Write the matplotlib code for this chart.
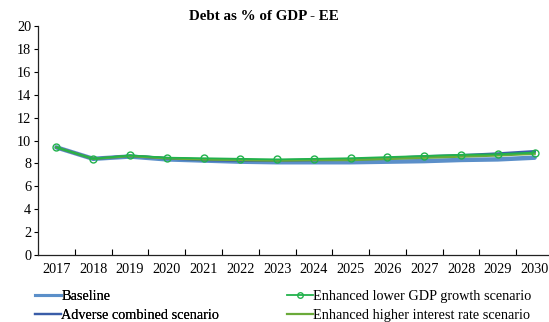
import matplotlib
matplotlib.use("Agg")
import matplotlib.pyplot as plt
from matplotlib.lines import Line2D

plt.rcParams['font.family'] = ['Liberation Serif', 'DejaVu Serif']

years = [str(y) for y in range(2017, 2031)]
baseline = [9.4, 8.4, 8.6, 8.35, 8.25, 8.15, 8.1, 8.1, 8.1, 8.15, 8.2, 8.3, 8.35, 8.5]
lower_gdp = [9.4, 8.4, 8.7, 8.5, 8.45, 8.4, 8.35, 8.4, 8.45, 8.55, 8.65, 8.75, 8.8, 8.95]
adverse = [9.4, 8.4, 8.65, 8.45, 8.3, 8.25, 8.25, 8.3, 8.35, 8.45, 8.6, 8.7, 8.85, 9.05]
higher_rate = [9.4, 8.4, 8.65, 8.45, 8.35, 8.3, 8.25, 8.3, 8.3, 8.4, 8.5, 8.6, 8.7, 8.85]
y_ticks = list(range(0, 21, 2))

W, H = 549, 322
fig = plt.figure(figsize=(W / 100, H / 100), dpi=100)
left, right, top, bottom = 38, 553, 26, 255
ax = fig.add_axes([left / W, 1 - bottom / H, (right - left) / W, (bottom - top) / H])

x = list(range(len(years)))
c_base = '#5B8FC9'
c_adv = '#3A5DA8'
c_gdp = '#22B24C'
c_rate = '#6AAA3A'

ax.plot(x, baseline, color=c_base, lw=3.2, solid_capstyle='round', zorder=2)
ax.plot(x, adverse, color=c_adv, lw=2.0, zorder=3)
ax.plot(x, lower_gdp, color=c_gdp, lw=1.3, marker='o', ms=5, mfc='none',
        mec=c_gdp, mew=1.0, zorder=5)
ax.plot(x, higher_rate, color=c_rate, lw=1.8, zorder=4)

ax.set_xlim(-0.5, len(years) - 0.5)
ax.set_ylim(0, 20)
ax.set_yticks(y_ticks)
ax.set_yticklabels([str(v) for v in y_ticks], fontsize=10.3)
ax.set_xticks([i + 0.5 for i in range(len(years) - 1)])
ax.set_xticklabels([])
ax.set_xticks(x, minor=True)
ax.set_xticklabels(years, minor=True, fontsize=10.3)
ax.tick_params(axis='x', which='minor', length=0, pad=6)
ax.tick_params(axis='x', which='major', direction='in', length=4, width=0.8)
ax.tick_params(axis='y', direction='out', length=3, width=0.8, pad=2)
for s in ('top', 'right'):
    ax.spines[s].set_visible(False)
for s in ('left', 'bottom'):
    ax.spines[s].set_linewidth(0.9)
    ax.spines[s].set_color('#222222')

fig.text(264 / W, 1 - 17 / H, 'Debt as % of GDP - EE', ha='center', va='center',
         fontsize=10.8, fontweight='bold')

h_base = Line2D([], [], color=c_base, lw=2.2)
h_adv = Line2D([], [], color=c_adv, lw=1.6)
h_gdp = Line2D([], [], color=c_gdp, lw=1.3, marker='o', ms=4, mfc='none', mec=c_gdp)
h_rate = Line2D([], [], color=c_rate, lw=1.6)

leg_kw = dict(loc='upper left', frameon=False, fontsize=10.3, handlelength=1.8,
              handletextpad=0.05, labelspacing=0.4, borderaxespad=0, borderpad=0)
leg1 = fig.legend([h_base, h_adv], ['Baseline', 'Adverse combined scenario'],
                  bbox_to_anchor=(35 / W, 1 - 290 / H), **leg_kw)
fig.add_artist(leg1)
fig.legend([h_gdp, h_rate], ['Enhanced lower GDP growth scenario',
                             'Enhanced higher interest rate scenario'],
           bbox_to_anchor=(287 / W, 1 - 290 / H), **leg_kw)

fig.savefig('out.png', dpi=100)
